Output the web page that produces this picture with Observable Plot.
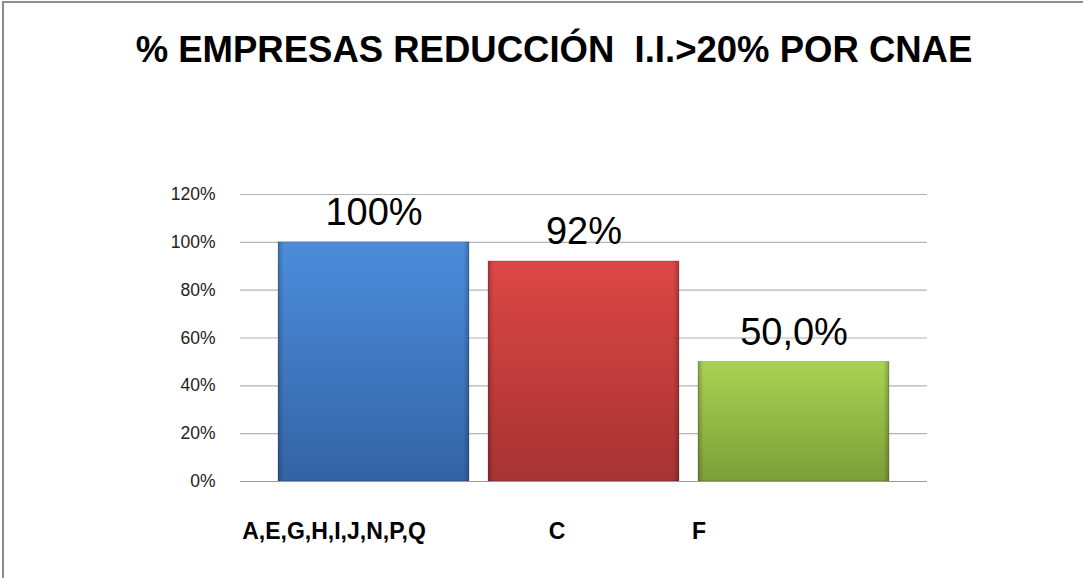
<!DOCTYPE html>
<html>
<head>
<meta charset="utf-8">
<script src="https://cdn.jsdelivr.net/npm/d3@7"></script>
<script src="https://cdn.jsdelivr.net/npm/@observablehq/plot@0.6"></script>
<style>
  html, body { margin: 0; padding: 0; background: #fff; }
  #wrap { position: relative; width: 1083px; height: 578px; overflow: hidden; background: #fff; }
  #frame { position: absolute; left: 2px; top: 1px; width: 1200px; height: 700px; border-left: 2px solid #8c8c8c; border-top: 2px solid #8c8c8c; box-sizing: border-box; pointer-events: none; }
  #title { position: absolute; left: 0; top: 29px; width: 1108px; text-align: center; font-family: "Liberation Sans", Arial, sans-serif; font-weight: bold; font-size: 36.5px; color: #000; white-space: pre; }
  #chart { position: absolute; left: 0; top: 0; }
</style>
</head>
<body>
<div id="wrap">
  <div id="chart"></div>
  <div id="title">% EMPRESAS REDUCCIÓN  I.I.&gt;20% POR CNAE</div>
  <div id="frame"></div>
</div>
<script>
// Data
const categories = ["A,E,G,H,I,J,N,P,Q", "C", "F"];
const values = [1.00, 0.92, 0.50];
const valueLabels = ["100%", "92%", "50,0%"];
const yTicks = [0, 0.2, 0.4, 0.6, 0.8, 1.0, 1.2];

const gradTop = ["#4b8ddb", "#dc4746", "#a9d253"];
const gradBottom = ["#3463a5", "#a63332", "#7c9f37"];
const gradIds = ["gA", "gC", "gF"];

const data = categories.map((c, i) => ({cat: c, value: values[i], label: valueLabels[i]}));

function defsMark() {
  const defs = d3.create("svg:defs");
  gradIds.forEach((id, i) => {
    const g = defs.append("linearGradient").attr("id", id).attr("x1", 0).attr("y1", 0).attr("x2", 0).attr("y2", 1);
    g.append("stop").attr("offset", "0%").attr("stop-color", gradTop[i]);
    g.append("stop").attr("offset", "100%").attr("stop-color", gradBottom[i]);
  });
  const h = defs.append("linearGradient").attr("id", "edgeShade").attr("x1", 0).attr("y1", 0).attr("x2", 1).attr("y2", 0);
  h.append("stop").attr("offset", "0%").attr("stop-color", "#000").attr("stop-opacity", 0.22);
  h.append("stop").attr("offset", "3%").attr("stop-color", "#000").attr("stop-opacity", 0.0);
  h.append("stop").attr("offset", "97%").attr("stop-color", "#000").attr("stop-opacity", 0.0);
  h.append("stop").attr("offset", "100%").attr("stop-color", "#000").attr("stop-opacity", 0.22);
  return defs.node();
}

const labelDx = [-40, -27, -95];

const chart = Plot.plot({
  width: 1083,
  height: 578,
  marginLeft: 240,
  marginRight: 156,
  marginTop: 194,
  marginBottom: 97,
  style: {fontFamily: "'Liberation Sans', Arial, sans-serif", background: "transparent"},
  x: {domain: categories, paddingInner: 0.0909, paddingOuter: 0.18, axis: null},
  y: {domain: [0, 1.2], ticks: yTicks, axis: null},
  color: {domain: categories, range: gradIds.map(id => `url(#${id})`)},
  marks: [
    defsMark,
    Plot.gridY(yTicks, {stroke: "#b4b4b4", strokeOpacity: 1, strokeWidth: 1.2}),
    Plot.axisY(yTicks, {tickSize: 0, tickPadding: 25, tickFormat: d3.format(".0%"), fontSize: 17.5, fill: "#222", label: null}),
    Plot.barY(data, {x: "cat", y: "value", fill: "cat", stroke: "#00000030", strokeWidth: 1}),
    Plot.barY(data, {x: "cat", y: "value", fill: "url(#edgeShade)"}),
    Plot.text(data, {x: "cat", y: "value", text: "label", fontSize: 38, fill: "#000", lineAnchor: "bottom", dy: -17}),
    ...categories.map((c, i) =>
      Plot.text([data[i]], {x: "cat", y: 0, text: "cat", fontSize: 23, fontWeight: "bold", fill: "#000", dx: labelDx[i], dy: 57, lineAnchor: "bottom"})
    ),
    Plot.ruleY([0], {stroke: "#9a9a9a", strokeWidth: 1.2})
  ]
});
document.getElementById("chart").appendChild(chart);
</script>
</body>
</html>
